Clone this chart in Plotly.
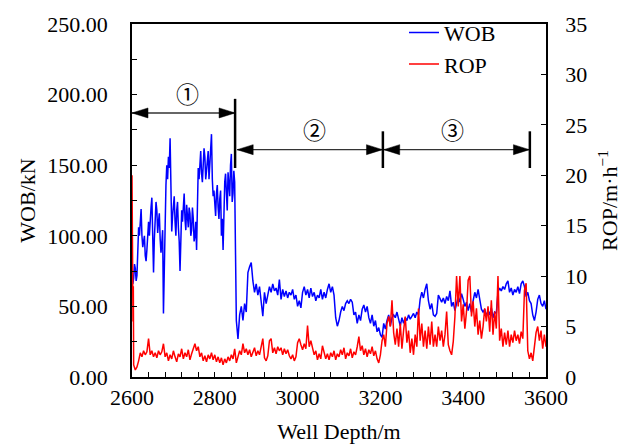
import numpy as np
import plotly.graph_objects as go

# ---------------- data ----------------
# stage 1 is sampled every 2 m, the rest every 4 m
wob_depth_a = np.arange(2600, 2849, 2)   # 2600..2848
wob_depth_b = np.arange(2852, 3601, 4)   # 2852..3600

wob_a = [
    75, 66, 70, 80, 77, 68, 72, 95, 106, 100, 112, 119, 100, 92, 96, 100, 86, 82, 90, 104,
    110, 100, 114, 120, 127, 90, 74, 98, 108, 124, 118, 102, 110, 116, 98, 88, 95, 104, 45, 80,
    112, 136, 150, 140, 156, 148, 169, 128, 103, 114, 120, 128, 110, 100, 118, 124, 106, 96, 75, 104,
    118, 110, 124, 130, 112, 104, 122, 114, 106, 120, 116, 100, 104, 120, 112, 96, 100, 110, 90, 120,
    148, 140, 152, 160, 144, 138, 150, 162, 156, 140, 146, 152, 160, 140, 150, 164, 172, 140, 128, 132,
    122, 114, 130, 136, 120, 112, 126, 132, 100, 112, 90, 120, 138, 144, 126, 118, 145, 136, 128, 150,
    158, 124, 130, 146, 138,
]
wob_b = [
    # 2852-3096
    40, 27, 44, 50, 40, 52, 46, 74, 78, 81,
    68, 60, 66, 58, 64, 55, 43, 60, 52, 58,
    64, 60, 66, 61, 63, 58, 69, 55, 62, 57,
    61, 56, 60, 58, 62, 55, 58, 50, 54, 49,
    60, 64, 58, 62, 56, 63, 57, 60, 54, 58,
    56, 62, 55, 60, 56, 62, 66, 60, 64, 58,
    42, 36,
    # 3100-3340
    40, 46, 50, 47, 52, 54, 52, 55, 53, 44,
    46, 38, 44, 40, 48, 51, 46, 50, 42, 38,
    44, 36, 40, 32, 35, 30, 28, 38, 34, 40,
    44, 36, 42, 44, 42, 46, 40, 36, 42, 38,
    42, 40, 44, 41, 43, 45, 42, 46, 44, 55,
    60, 56, 62, 66, 54, 48, 52, 44, 43, 45,
    58,
    # 3344-3600
    55, 53, 56, 52, 57, 54, 61, 50, 53, 47,
    52, 57, 53, 59, 55, 50, 53, 47, 52, 46,
    54, 60, 56, 62, 55, 48, 46, 48, 43, 47,
    44, 49, 42, 46, 45, 60, 63, 61, 64, 62,
    66, 68, 60, 63, 58, 62, 60, 64, 59, 66,
    68, 64, 57, 60, 54, 52, 44, 40, 46, 55,
    58, 52, 50, 54, 48,
]

# ROP: a few readings at the very start, then every 4 m from 2604
rop_head_depth = [2600.0, 2600.8, 2601.6, 2602.4, 2603.2]
rop_head = [20.0, 7.0, 12.0, 5.5, 9.0]
rop_depth_b = np.arange(2604, 3601, 4)
rop_b = [
    # 2604-2848
    1.2, 0.7, 1.0, 1.6, 2.4, 2.0, 2.6, 2.2, 2.5, 3.8,
    2.2, 2.6, 2.0, 2.4, 1.9, 2.6, 2.2, 2.5, 3.3, 2.0,
    2.4, 1.6, 2.2, 1.8, 2.6, 2.0, 1.5, 2.3, 2.0, 2.8,
    1.8, 2.4, 2.0, 2.7, 1.7, 2.3, 2.8, 3.3, 2.6, 3.0,
    2.0, 2.4, 1.6, 2.1, 1.5, 2.2, 1.8, 2.4, 1.7, 2.2,
    1.5, 2.0, 1.4, 1.9, 1.2, 1.8, 1.4, 2.0, 1.6, 2.2,
    1.8, 2.8,
    # 2852-3096
    1.4, 1.9, 2.6, 2.2, 3.3, 2.4, 2.8, 2.2, 2.7, 2.0,
    2.5, 2.9, 2.1, 2.6, 2.2, 3.2, 3.8, 1.9, 1.6, 2.1,
    3.6, 3.8, 2.4, 2.9, 2.3, 3.0, 2.6, 2.9, 2.2, 2.8,
    2.3, 2.7, 2.1, 1.8, 2.2, 1.6, 2.0, 3.4, 3.8, 3.2,
    2.7, 3.3, 2.8, 5.1, 3.0, 3.6, 2.7, 2.2, 2.6, 1.7,
    2.3, 1.8, 3.1, 2.4, 1.8, 2.3, 1.7, 2.4, 2.0, 2.6,
    1.7, 2.3,
    # 3100-3340
    2.0, 2.7, 2.2, 2.9, 1.8, 2.4, 2.1, 2.8, 1.9, 2.5,
    2.2, 3.0, 4.0, 2.6, 3.1, 2.2, 2.8, 2.0, 2.7, 2.3,
    3.0, 2.1, 2.6, 1.8, 1.4, 2.2, 3.6, 4.2, 3.0, 5.3,
    6.0, 5.0, 7.6, 4.4, 3.2, 4.8, 3.0, 5.3, 2.8, 4.6,
    6.0, 3.4, 4.6, 2.4, 3.8, 2.2, 4.2, 3.0, 6.8, 3.6,
    5.3, 3.0, 4.6, 2.8, 5.0, 3.2, 5.5, 3.0, 4.2, 3.0,
    5.0,
    # 3344-3600
    3.6, 4.6, 3.0, 4.2, 6.5, 3.2, 2.6, 2.2, 3.5, 6.0,
    10.0, 7.0, 10.0, 5.5, 7.2, 4.8, 6.5, 9.6, 10.0, 6.0,
    7.5, 5.0, 6.8, 4.2, 5.6, 3.8, 5.0, 6.8, 5.5, 7.0,
    4.5, 7.6, 4.2, 6.5, 4.8, 10.0, 3.6, 4.8, 3.0, 4.4,
    3.2, 4.6, 3.0, 4.2, 3.4, 4.6, 3.6, 4.2, 3.3, 4.5,
    3.8, 8.6, 9.3, 2.6, 1.8, 2.4, 1.6, 2.8, 4.4, 5.0,
    3.6, 4.6, 2.8, 4.2, 3.0,
]

wob_depth = list(wob_depth_a) + list(wob_depth_b)
wob = wob_a + wob_b
rop_depth = rop_head_depth + list(rop_depth_b)
rop = rop_head + rop_b

x_ticks = [2600, 2800, 3000, 3200, 3400, 3600]
wob_ticks = [0, 50, 100, 150, 200, 250]
rop_ticks = [0, 5, 10, 15, 20, 25, 30, 35]

# stage boundaries (depth) and labels
stage_bounds = [2600, 2849, 3206, 3561]
stage_labels = ["①", "②", "③"]

# ---------------- figure ----------------
FONT = "Liberation Serif, Times New Roman, serif"
fig = go.Figure()
fig.add_trace(go.Scatter(x=wob_depth, y=wob, mode="lines", name="WOB",
                         line=dict(color="#0000FF", width=1.5)))
fig.add_trace(go.Scatter(x=rop_depth, y=rop, mode="lines", name="ROP",
                         yaxis="y2", line=dict(color="#FF0000", width=1.5)))

axis_common = dict(showgrid=False, zeroline=False, showline=True,
                   linecolor="black", linewidth=1.5, ticks="inside",
                   ticklen=5, tickwidth=1.3, tickcolor="black",
                   automargin=False,
                   tickfont=dict(family=FONT, size=22, color="black"))

fig.update_layout(
    width=622, height=444,
    margin=dict(l=132, r=76, t=22, b=67),
    paper_bgcolor="white", plot_bgcolor="white",
    font=dict(family=FONT, size=22, color="black"),
    xaxis=dict(range=[2600, 3600], tickvals=x_ticks, mirror=True,
               minor=dict(ticks="inside", dtick=40, tick0=2600, ticklen=5,
                          tickwidth=1.3, tickcolor="black"),
               ticklabelstandoff=0,
               title=dict(text="Well Depth/m", standoff=14,
                          font=dict(family=FONT, size=22)),
               **axis_common),
    yaxis=dict(range=[0, 250], tickvals=wob_ticks, tickformat=".2f",
               mirror=True,
               minor=dict(ticks="inside", dtick=25, ticklen=5,
                          tickwidth=1.3, tickcolor="black"),
               ticklabelstandoff=18,
               title=dict(text="WOB/kN", standoff=6,
                          font=dict(family=FONT, size=22)),
               **axis_common),
    yaxis2=dict(range=[0, 35], tickvals=rop_ticks, overlaying="y",
                side="right", ticklabelstandoff=13,
                title=dict(text="ROP/m·h<sup>−1</sup>", standoff=27,
                           font=dict(family=FONT, size=22)),
                **axis_common),
    legend=dict(x=0.657, y=1.035, xanchor="left", yanchor="top",
                bgcolor="rgba(0,0,0,0)", borderwidth=0,
                font=dict(family=FONT, size=22), itemwidth=30,
                tracegroupgap=0),
)

# stage arrows: shaft as a line, heads as pixel-sized triangles
arrow_y = [187, 161, 161]
arrow_pad = [0, 5, 2]
HEAD_L, HEAD_W = 16, 5
for i in range(3):
    x0 = stage_bounds[i] + arrow_pad[i]
    x1 = stage_bounds[i + 1] - (1 if i > 0 else 0)
    y = arrow_y[i]
    fig.add_shape(type="line", xref="x", yref="y", x0=x0, x1=x1, y0=y, y1=y,
                  line=dict(color="#333333", width=1.4))
    fig.add_shape(type="path", xref="x", yref="y", xsizemode="pixel",
                  ysizemode="pixel", xanchor=x0, yanchor=y,
                  path=f"M 0 0 L {HEAD_L} {HEAD_W} L {HEAD_L} {-HEAD_W} Z",
                  fillcolor="black", line=dict(color="black", width=0.5))
    fig.add_shape(type="path", xref="x", yref="y", xsizemode="pixel",
                  ysizemode="pixel", xanchor=x1, yanchor=y,
                  path=f"M 0 0 L {-HEAD_L} {HEAD_W} L {-HEAD_L} {-HEAD_W} Z",
                  fillcolor="black", line=dict(color="black", width=0.5))
# vertical bars
bars = [(2849, 148, 197), (3206, 148, 174), (3561, 148, 174)]
for bx, b0, b1 in bars:
    fig.add_shape(type="line", xref="x", yref="y", x0=bx, x1=bx, y0=b0, y1=b1,
                  line=dict(color="black", width=2.5))
# stage labels
label_pos = [(2735, 201), (3042, 175.5), (3375, 175.5)]
for (lx, ly), lab in zip(label_pos, stage_labels):
    fig.add_annotation(x=lx, y=ly, xref="x", yref="y", text=lab,
                       showarrow=False,
                       font=dict(family="Noto Sans CJK SC", size=23,
                                 color="black"))

fig.write_html("out.html")
